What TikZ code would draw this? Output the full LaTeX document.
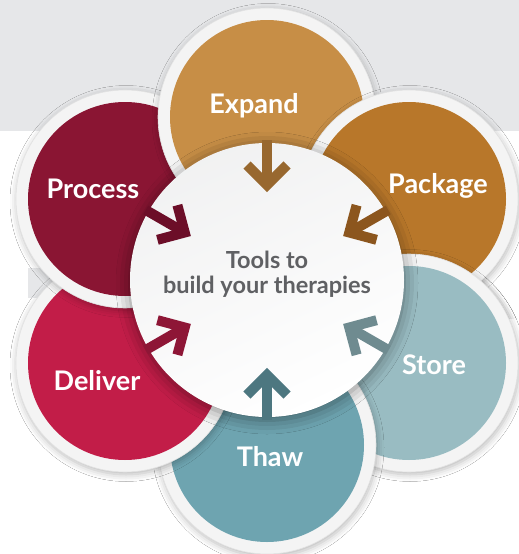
\documentclass[tikz,border=0pt]{standalone}
\usepackage{fontspec}
\setmainfont{Lato}
\usetikzlibrary{shadows.blur}
\definecolor{bandgray}{HTML}{E6E7E9}
\definecolor{ringc}{HTML}{F4F4F4}
\definecolor{ringedge}{HTML}{E2E2E2}
\definecolor{expandc}{HTML}{C78E46}
\definecolor{packagec}{HTML}{B8772A}
\definecolor{storec}{HTML}{99BCC2}
\definecolor{thawc}{HTML}{6EA4B0}
\definecolor{deliverc}{HTML}{C21D48}
\definecolor{processc}{HTML}{8A1533}
\definecolor{expanda}{HTML}{98682F}
\definecolor{packagea}{HTML}{8C561E}
\definecolor{processa}{HTML}{6C0E28}
\definecolor{delivera}{HTML}{8E1636}
\definecolor{storea}{HTML}{6F8B90}
\definecolor{thawa}{HTML}{4D7780}
\definecolor{hubtext}{HTML}{5F6063}
\tikzset{
  ringnode/.style={circle, inner sep=0pt, minimum size=218, fill=ringc, draw=ringedge, line width=0.6,
    blur shadow={shadow blur radius=7pt, shadow opacity=28, shadow xshift=1pt, shadow yshift=-2.5pt}},
  disknode/.style={circle, inner sep=0pt, minimum size=194, fill=#1},
  labeltext/.style={text=white, font=\bfseries\fontsize{27}{32}\selectfont, anchor=base, inner sep=0pt},
  hubtextstyle/.style={text=hubtext, font=\bfseries\fontsize{23.5}{27}\selectfont, anchor=base, inner sep=0pt},
  hubnode/.style={circle, inner sep=0pt, minimum size=274, top color=ringc!80!bandgray, bottom color=white,
    shading angle=25, blur shadow={shadow blur radius=14pt, shadow opacity=45, shadow xshift=0pt, shadow yshift=-3pt}},
  arrowline/.style={line width=10, draw=#1, miter limit=10},
}
\newcommand\inwardarrow[2]{%
  \begin{scope}[shift={(hub.center)}, rotate=#1]
    \draw[arrowline=#2] (140,0) -- (95,0);
    \draw[arrowline=#2] (115,20) -- (95,0) -- (115,-20);
  \end{scope}}
\begin{document}
\begin{tikzpicture}[x=1pt, y=-1pt]
\useasboundingbox (0,0) rectangle (519,554);
\fill[white] (0,0) rectangle (519,554);
\fill[bandgray] (0,0) rectangle (519,131);
\fill[bandgray] (28,268) rectangle (120,298);

% outer circles (cyclic overlap: Store redrawn at the end over Package)
\node[ringnode] (storering) at (409,363) {};
\node[disknode=storec] (store) at (409,363) {};
\node[ringnode] (thawring) at (267,445) {};
\node[disknode=thawc] (thaw) at (267,445) {};
\node[ringnode] (deliverring) at (125,363) {};
\node[disknode=deliverc] (deliver) at (125,363) {};
\node[ringnode] (processring) at (125,199) {};
\node[disknode=processc] (process) at (125,199) {};
\node[ringnode] (expandring) at (267,117) {};
\node[disknode=expandc] (expand) at (267,117) {};
\node[ringnode] (packagering) at (409,199) {};
\node[disknode=packagec] (package) at (409,199) {};
\begin{scope}
  \clip (300,236) rectangle (519,318);
  \node[ringnode] (storeringtop) at (409,363) {};
  \node[disknode=storec] (storetop) at (409,363) {};
\end{scope}

% labels
\node[labeltext] (expandlabel) at (254,113) {Expand};
\node[labeltext] (packagelabel) at (438,193) {Package};
\node[labeltext] (processlabel) at (93,198) {Process};
\node[labeltext] (storelabel) at (434,374) {Store};
\node[labeltext] (deliverlabel) at (97,390) {Deliver};
\node[labeltext] (thawlabel) at (270,466) {Thaw};

% hub
\node[hubnode] (hub) at (267,280) {};
\node[hubtextstyle] (hubline1) at (267,268) {Tools to};
\node[hubtextstyle] (hubline2) at (267,293) {build your therapies};

% arrows toward the hub
\inwardarrow{90}{expanda}
\inwardarrow{30}{packagea}
\inwardarrow{150}{processa}
\inwardarrow{210}{delivera}
\inwardarrow{330}{storea}
\inwardarrow{270}{thawa}
\end{tikzpicture}
\end{document}
